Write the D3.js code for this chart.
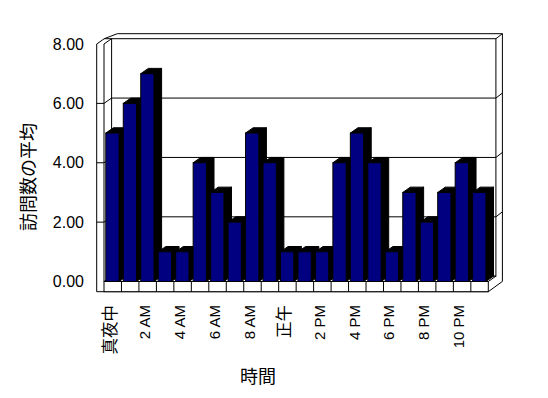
<!DOCTYPE html>
<html>
<head>
<meta charset="utf-8">
<script src="https://cdn.jsdelivr.net/npm/d3@7"></script>
<style>
body { margin: 0; background: #fff; }
svg { display: block; }
</style>
</head>
<body>
<div id="chart"></div>
<script>
// categories (hours) and the average visits for each
var hours = ["真夜中", "1 AM", "2 AM", "3 AM", "4 AM", "5 AM", "6 AM", "7 AM", "8 AM", "9 AM",
             "正午", "1 PM", "2 PM", "3 PM", "4 PM", "5 PM", "6 PM", "7 PM", "8 PM", "9 PM", "10 PM", "11 PM"];
var visits = [5, 6, 7, 1, 1, 4, 3, 2, 5, 4, 1, 1, 1, 4, 5, 4, 1, 3, 2, 3, 4, 3];
var yTicks = [0, 2, 4, 6, 8];
var yTitle = "訪問数の平均";
var xTitle = "時間";

var W = 548, H = 398;
var x0 = 104, x1 = 488.3;       // front plane of the plot
var depth = {x: 7.6, y: -5.3};  // front -> back wall
var thick = {x: 6.5, y: -5};    // back wall thickness
var wallW = 7.3;                // left wall thickness
var floorH = 10.2;

var svg = d3.select("#chart").append("svg").attr("width", W).attr("height", H);

var x = d3.scaleBand().domain(hours).range([x0, x1]).paddingInner(0).paddingOuter(0);
var y = d3.scaleLinear().domain([0, 8]).range([281.5, 44]);

var yTop = y(8), yBot = y(0);
var bwL = x0 + depth.x, bwR = x1 + depth.x, bwT = yTop + depth.y, bwB = yBot + depth.y;

function pts(a) { return a.map(function(p){ return p.join(","); }).join(" "); }

// outer frame
svg.append("polygon")
    .attr("points", pts([
        [x0 - wallW, yBot + floorH], [x0 - wallW, yTop], [x0 - wallW + depth.x, bwT],
        [bwL + thick.x - 0.8, bwT + thick.y], [bwR + thick.x, bwT + thick.y],
        [bwR + thick.x, yBot + floorH + depth.y + thick.y], [x1, yBot + floorH]]))
    .attr("fill", "#fff").attr("stroke", "#000");

// back wall front face
svg.append("rect")
    .attr("x", bwL).attr("y", bwT).attr("width", bwR - bwL).attr("height", bwB - bwT)
    .attr("fill", "#fff").attr("stroke", "#000");

var line = function(a) {
    svg.append("polyline").attr("points", pts(a)).attr("fill", "none").attr("stroke", "#000");
};
line([[x0 - wallW + depth.x, bwT], [bwL, bwT]]);
line([[bwR, bwT], [bwR + thick.x, bwT + thick.y]]);
line([[x0, yTop], [x0, yBot]]);
line([[x0, yTop], [bwL, bwT]]);

// gridlines
yTicks.filter(function(v){ return v > 0 && v < 8; }).forEach(function(v) {
    var yy = y(v);
    line([[x0 - wallW, yy], [x0, yy], [bwL, yy + depth.y], [bwR, yy + depth.y],
          [bwR + thick.x, yy + depth.y + thick.y]]);
});

// floor top and front face
svg.append("polygon")
    .attr("points", pts([[x0, yBot], [x1, yBot], [bwR, bwB], [bwL, bwB]]))
    .attr("fill", "#fff").attr("stroke", "#000");
svg.append("rect")
    .attr("x", x0).attr("y", yBot).attr("width", x1 - x0).attr("height", floorH)
    .attr("fill", "#fff").attr("stroke", "#000");
svg.selectAll(".cell").data(hours.slice(1)).enter().append("line")
    .attr("x1", function(d){ return x(d); }).attr("x2", function(d){ return x(d); })
    .attr("y1", yBot).attr("y2", yBot + floorH).attr("stroke", "#000");

// bars
var bw = x.bandwidth() * 0.76;
var off = (x.bandwidth() - bw) / 2 - 0.3;
var bars = svg.selectAll(".bar").data(visits).enter().append("g");
bars.each(function(v, i) {
    var g = d3.select(this);
    var xf = x(hours[i]) + off, yt = y(v);
    g.append("polygon")
        .attr("points", pts([[xf + bw, yBot], [xf + bw, yt], [xf + bw + depth.x, yt + depth.y], [xf + bw + depth.x, yBot + depth.y]]))
        .attr("fill", "#000").attr("stroke", "#000");
    g.append("polygon")
        .attr("points", pts([[xf, yt], [xf + bw, yt], [xf + bw + depth.x, yt + depth.y], [xf + depth.x, yt + depth.y]]))
        .attr("fill", "#000").attr("stroke", "#000");
    g.append("rect")
        .attr("x", xf).attr("y", yt).attr("width", bw).attr("height", yBot - yt)
        .attr("fill", "#000080").attr("stroke", "#000");
});

// y axis labels
var yAxis = svg.append("g").attr("transform", "translate(86,0)")
    .call(d3.axisLeft(y).tickValues(yTicks).tickFormat(d3.format(".2f")).tickSize(0).tickPadding(2));
yAxis.select(".domain").remove();
yAxis.selectAll("text").attr("font-family", "Liberation Sans, Arial, sans-serif").attr("font-size", 16).attr("fill", "#000");

// x axis labels (every other hour)
svg.selectAll(".xl").data(hours.filter(function(d, i){ return i % 2 === 0; })).enter().append("text")
    .attr("transform", function(d){ return "translate(" + (x(d) + x.bandwidth() / 2 - 3) + ",305) rotate(-90)"; })
    .attr("text-anchor", "end").attr("dy", "0.35em")
    .attr("font-family", "Liberation Sans, 'Noto Sans CJK JP', sans-serif")
    .attr("font-size", function(d){ return /[A-Z]/.test(d) ? 15 : 16.5; })
    .text(function(d){ return d; });

// titles
svg.append("text")
    .attr("transform", "translate(29,177) rotate(-90)")
    .attr("text-anchor", "middle").attr("dy", "0.35em")
    .attr("font-family", "'Noto Sans CJK JP', sans-serif").attr("font-size", 18)
    .text(yTitle);
svg.append("text")
    .attr("x", 258).attr("y", 377).attr("text-anchor", "middle").attr("dy", "0.35em")
    .attr("font-family", "'Noto Sans CJK JP', sans-serif").attr("font-size", 18)
    .text(xTitle);
</script>
</body>
</html>
